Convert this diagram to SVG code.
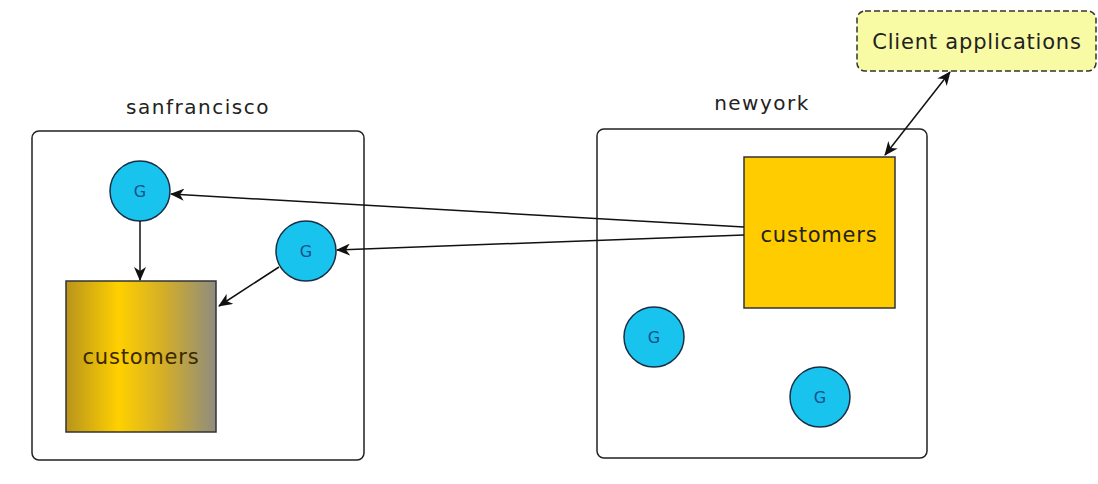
<svg xmlns="http://www.w3.org/2000/svg" width="1098" height="484" viewBox="0 0 1098 484">
<style>
.container{fill:#fff;stroke:#222;stroke-width:1.5}
.lbl{font-family:"DejaVu Sans",sans-serif;font-size:20px;letter-spacing:1.5px;fill:#222;text-anchor:middle}
.big{font-size:21px;letter-spacing:0.8px}
.gc{fill:#18C4EE;stroke:#1a2e45;stroke-width:1.5}
.gt{font-family:"DejaVu Sans",sans-serif;font-size:16px;fill:#1a4f8c;text-anchor:middle}
.edge{stroke:#111;stroke-width:1.5;fill:none;marker-end:url(#ah)}
</style>
<defs>
<marker id="ah" viewBox="0 0 14 12" refX="13" refY="6" markerWidth="14" markerHeight="12" markerUnits="userSpaceOnUse" orient="auto-start-reverse">
<path d="M0,0 L14,6 L0,12 L4,6 z" fill="#111"/>
</marker>
<linearGradient id="sfg" x1="0" y1="0" x2="1" y2="0">
<stop offset="0" stop-color="#b8941c"/>
<stop offset="0.35" stop-color="#ffd000"/>
<stop offset="0.65" stop-color="#d4ae28"/>
<stop offset="1" stop-color="#8e8c80"/>
</linearGradient>
</defs>
<rect width="1098" height="484" fill="#fff"/>
<g id="sanfrancisco">
<rect class="container" x="32" y="131" width="332" height="329" rx="7"/>
<text class="lbl" x="198" y="114">sanfrancisco</text>
</g>
<g id="newyork">
<rect class="container" x="597" y="129" width="330" height="329" rx="7"/>
<text class="lbl" x="762" y="110">newyork</text>
</g>
<g id="sf-customers">
<rect x="66" y="281" width="150" height="151" fill="url(#sfg)" stroke="#333" stroke-width="1.5"/>
<text class="lbl big" x="141" y="364" style="fill:#3a2800">customers</text>
</g>
<g id="ny-customers">
<rect x="744" y="157" width="151" height="151" fill="#ffcc00" stroke="#333" stroke-width="1.5"/>
<text class="lbl big" x="819" y="242">customers</text>
</g>
<g id="sf-g1">
<circle class="gc" cx="140" cy="191" r="30"/>
<text class="gt" x="140" y="197">G</text>
</g>
<g id="sf-g2">
<circle class="gc" cx="306" cy="251" r="30"/>
<text class="gt" x="306" y="257">G</text>
</g>
<g id="ny-g1">
<circle class="gc" cx="654" cy="337" r="30"/>
<text class="gt" x="654" y="343">G</text>
</g>
<g id="ny-g2">
<circle class="gc" cx="820" cy="397" r="30"/>
<text class="gt" x="820" y="403">G</text>
</g>
<g id="client">
<rect x="857" y="11" width="239" height="60" rx="8" fill="#f8fba4" stroke="#333" stroke-width="1.5" stroke-dasharray="6,3"/>
<text class="lbl big" x="977" y="49">Client applications</text>
</g>
<g id="connectors">
<path class="edge" d="M744,227 L171,194"/>
<path class="edge" d="M744,235 L337,250"/>
<path class="edge" d="M140,221 L140,280"/>
<path class="edge" d="M279,267 L219,306"/>
<path class="edge" style="marker-start:url(#ah)" d="M950,72 L885,155"/>
</g>
</svg>
